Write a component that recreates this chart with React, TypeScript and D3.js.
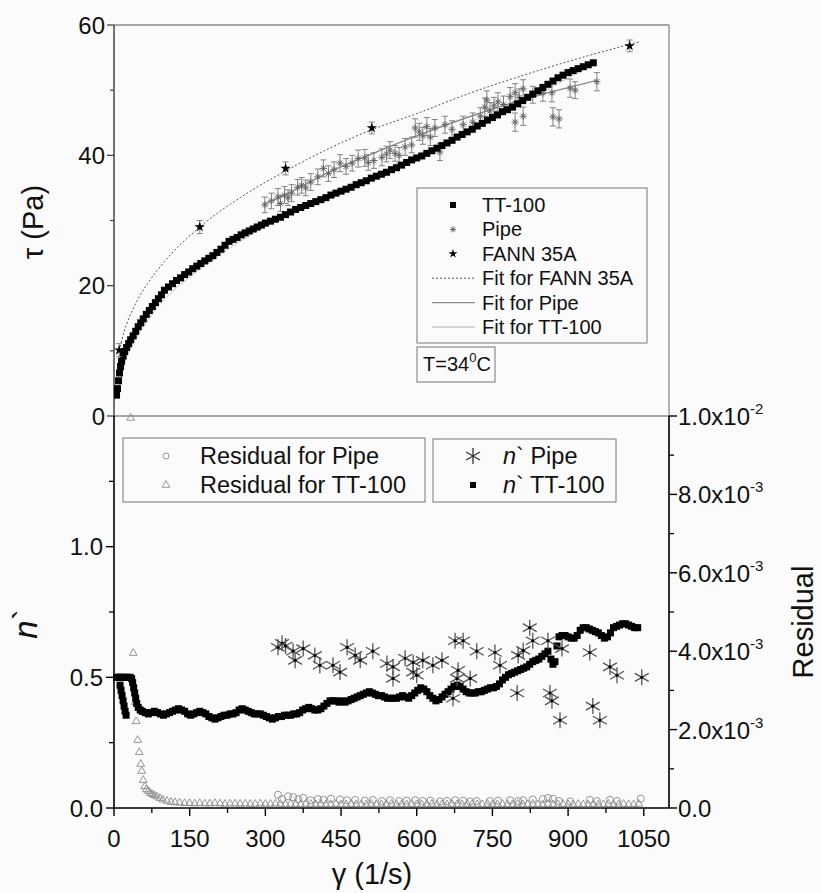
import React from 'react';
import * as d3 from 'd3';

// ---------------- data ----------------
const xTicks = [0, 150, 300, 450, 600, 750, 900, 1050];
const xMinor = [75, 225, 375, 525, 675, 825, 975];
const tauTicks = [0, 20, 40, 60];
const tauMinor = [10, 30, 50];
const nTicks = [0.0, 0.5, 1.0];
const nTickLabels = ['0.0', '0.5', '1.0'];
const nMinor = [0.25, 0.75, 1.25];
const resTicks = [0, 0.002, 0.004, 0.006, 0.008, 0.01];
const resTickMant = ['0.0', '2.0x10', '4.0x10', '6.0x10', '8.0x10', '1.0x10'];
const resTickExp = ['', '-3', '-3', '-3', '-3', '-2'];
const resMinor = [0.001, 0.003, 0.005, 0.007, 0.009];

// TT-100 shear stress [gamma, tau]
const tt100Tau: [number, number][] = [
  [5,3.2],[7,4.2],[9,5.4],[11,6.6],[13,7.6],[15,8.4],[18,9.2],[21,9.9],[25,10.5],[29,11.1],[33,11.7],[38,12.3],
  [43,13.0],[48,13.7],[53,14.3],[58,14.9],[64,15.6],[70,16.2],[76,16.8],[82,17.4],[88,18.0],[94,18.6],[100,19.3],
  [108,19.8],[116,20.3],[124,20.8],[132,21.2],[140,21.7],[148,22.1],[156,22.6],[164,23.0],[172,23.4],[180,23.8],
  [188,24.2],[196,24.6],[204,25.1],[212,25.6],[220,26.2],[228,26.8],[236,27.1],[244,27.4],[252,27.8],[260,28.1],
  [268,28.4],[276,28.7],[284,29.0],[292,29.3],[300,29.6],[310,29.9],[320,30.2],[330,30.5],[340,30.9],[350,31.3],
  [360,31.7],[370,32.0],[380,32.3],[390,32.6],[400,32.9],[410,33.2],[420,33.5],[430,33.9],[440,34.2],[450,34.5],
  [460,34.8],[470,35.1],[480,35.5],[490,35.8],[500,36.1],[510,36.5],[520,36.8],[530,37.1],[540,37.4],[550,37.8],
  [560,38.1],[570,38.5],[580,38.9],[590,39.3],[600,39.6],[610,39.9],[620,40.3],[630,40.7],[640,41.1],[650,41.5],
  [660,41.9],[670,42.3],[680,42.8],[690,43.2],[700,43.6],[710,44.0],[720,44.5],[730,44.9],[740,45.4],[750,45.8],
  [760,46.2],[770,46.7],[780,47.0],[790,47.4],[800,47.9],[810,48.4],[820,48.9],[830,49.4],[840,49.9],[850,50.4],
  [860,50.9],[870,51.4],[880,51.9],[890,52.3],[900,52.7],[910,53.0],[920,53.3],[930,53.6],[940,53.9],[950,54.2],
];

// Pipe shear stress [gamma, tau, error]
const pipeTau: [number, number, number][] = [
  [299,32.4,1.2],[312,33.0,1.2],[325,33.6,1.3],[330,32.6,1.2],[338,33.9,1.3],[345,33.5,1.2],[352,34.2,1.3],
  [364,35.1,1.2],[372,35.4,1.2],[380,35.0,1.2],[390,35.9,1.3],[404,36.7,1.2],[415,38.0,1.3],[425,37.2,1.2],
  [436,37.8,1.2],[448,38.8,1.3],[460,38.3,1.2],[472,38.8,1.2],[484,39.5,1.3],[497,39.6,1.3],[504,38.9,1.2],
  [515,39.2,1.2],[531,39.7,1.3],[540,40.2,1.2],[547,40.8,1.3],[557,40.3,1.2],[565,40.0,1.2],[577,41.3,1.3],
  [590,41.6,1.2],[597,44.2,1.4],[605,43.6,1.3],[612,43.0,1.3],[620,44.4,1.4],[627,42.8,1.3],[636,44.2,1.3],
  [646,40.5,1.3],[656,44.7,1.3],[670,44.0,1.3],[692,44.7,1.3],[711,45.1,1.4],[726,46.0,1.3],[735,47.4,1.4],
  [739,48.5,1.4],[745,46.8,1.3],[753,47.6,1.3],[761,48.2,1.4],[772,47.8,1.3],[785,49.0,1.4],[795,49.6,1.4],
  [795,45.1,1.4],[803,48.9,1.3],[811,50.2,1.4],[811,46.0,1.4],[830,49.3,1.3],[850,49.6,1.3],[868,49.6,1.4],
  [870,45.9,1.4],[882,45.6,1.4],[904,50.3,1.4],[914,50.0,1.3],[957,51.3,1.4],
];

// FANN 35A shear stress [gamma, tau, error]
const fannTau: [number, number, number][] = [
  [10.2,10.1,1.0],[170,29.0,1.0],[340,38.0,1.0],[511,44.2,0.9],[1022,56.8,0.9],
];

// fitted curves
const fitFann: [number, number][] = [
  [12,10.6],[20,12.9],[40,16.8],[70,20.7],[100,23.7],[170,29.0],[250,33.5],[340,37.6],[430,41.2],
  [510,43.9],[600,46.4],[700,49.4],[800,52.0],[900,54.4],[1040,57.4],
];
const fitPipe: [number, number][] = [
  [299,32.6],[330,33.6],[420,37.2],[510,40.2],[600,43.0],[700,45.8],[800,48.3],[900,50.4],[957,51.5],
];
const fitTT100: [number, number][] = [
  [8,3.8],[20,7.8],[40,11.4],[70,15.0],[100,17.9],[150,21.3],[200,24.2],[300,29.1],[400,32.7],
  [500,35.9],[600,39.4],[700,43.3],[800,47.6],[950,54.0],
];

// n' TT-100 [gamma, n']
const nTT100: [number, number][] = [
  [5,0.5],[8,0.5],[11,0.5],[14,0.5],[17,0.5],[20,0.5],[24,0.5],[28,0.5],[32,0.5],[35,0.495],[37,0.48],[39,0.46],
  [41,0.44],[43,0.42],[45,0.40],[48,0.385],[52,0.375],
  [12,0.47],[14,0.45],[16,0.43],[18,0.41],[20,0.39],[22,0.37],[24,0.355],
  [56,0.37],[62,0.365],[68,0.36],[74,0.365],[80,0.37],[86,0.365],[92,0.36],[98,0.355],[104,0.36],[110,0.365],
  [116,0.37],[122,0.375],[128,0.38],[134,0.375],[140,0.37],[146,0.36],[152,0.355],[158,0.36],[164,0.365],
  [170,0.37],[176,0.365],[182,0.36],[188,0.35],[194,0.345],[200,0.34],[206,0.345],[212,0.35],[218,0.355],
  [224,0.355],[230,0.36],[236,0.36],[242,0.365],[248,0.375],[254,0.38],[260,0.375],[266,0.37],[272,0.365],
  [278,0.36],[284,0.36],[290,0.36],[296,0.355],[302,0.35],[308,0.345],[314,0.34],[320,0.345],[326,0.35],
  [332,0.35],[338,0.355],[344,0.355],[350,0.355],[356,0.36],[362,0.36],[368,0.365],[374,0.375],[380,0.38],
  [386,0.385],[392,0.38],[398,0.375],[404,0.375],[410,0.38],[416,0.39],[422,0.40],[428,0.41],[434,0.41],
  [440,0.41],[446,0.405],[452,0.41],[458,0.405],[464,0.41],[470,0.415],[476,0.42],[482,0.425],[488,0.43],
  [494,0.435],[500,0.44],[506,0.445],[512,0.44],[518,0.435],[524,0.43],[530,0.43],[536,0.425],[542,0.42],
  [548,0.42],[554,0.42],[560,0.42],[566,0.425],[572,0.43],[578,0.425],[584,0.42],[590,0.43],[596,0.44],
  [602,0.45],[608,0.46],[614,0.455],[620,0.445],[626,0.43],[632,0.42],[638,0.41],[644,0.415],[650,0.425],
  [656,0.435],[662,0.445],[668,0.455],[674,0.465],[680,0.47],[686,0.465],[692,0.455],[698,0.445],[704,0.44],
  [710,0.44],[716,0.44],[722,0.445],[728,0.445],[734,0.45],[740,0.455],[746,0.46],[752,0.46],[758,0.465],
  [764,0.475],[770,0.49],[776,0.50],[782,0.51],[788,0.515],[794,0.52],[800,0.525],[806,0.53],[812,0.535],
  [818,0.54],[824,0.55],[830,0.56],[836,0.565],[842,0.57],[848,0.58],[854,0.59],[860,0.60],[866,0.57],
  [870,0.55],[874,0.56],[878,0.62],[882,0.655],[888,0.66],[894,0.66],[900,0.655],[906,0.65],[912,0.65],
  [918,0.66],[924,0.68],[930,0.69],[936,0.69],[942,0.685],[948,0.68],[954,0.675],[960,0.67],[966,0.66],
  [972,0.65],[978,0.655],[984,0.67],[990,0.69],[996,0.695],[1002,0.70],[1008,0.705],[1014,0.705],[1020,0.70],
  [1026,0.695],[1032,0.69],[1038,0.69],
];

// n' Pipe [gamma, n']
const nPipe: [number, number][] = [
  [325,0.615],[333,0.63],[340,0.62],[355,0.60],[359,0.565],[375,0.61],[398,0.584],[408,0.546],[434,0.546],
  [448,0.52],[462,0.615],[478,0.584],[488,0.565],[513,0.60],[541,0.553],[553,0.54],[553,0.496],[577,0.573],
  [593,0.557],[593,0.52],[600,0.508],[612,0.565],[632,0.546],[650,0.565],[672,0.42],[676,0.64],[680,0.496],
  [682,0.527],[692,0.64],[706,0.496],[719,0.60],[755,0.595],[765,0.546],[799,0.44],[801,0.584],[811,0.603],
  [824,0.69],[830,0.64],[860,0.64],[864,0.44],[868,0.41],[884,0.336],[888,0.61],[943,0.595],[949,0.39],
  [963,0.336],[983,0.54],[997,0.508],[1046,0.50],
];

// Residual for Pipe [gamma, residual]
const resPipe: [number, number][] = [
  [325,2.6e-4],[333,1.5e-4],[345,2.2e-4],[355,2.0e-4],[365,1.5e-4],[375,1.8e-4],[390,1.2e-4],[404,1.5e-4],
  [415,1.3e-4],[430,1.6e-4],[448,1.4e-4],[462,1.2e-4],[478,1.3e-4],[497,1.1e-4],[513,1.3e-4],[531,1.0e-4],
  [547,1.2e-4],[565,1.0e-4],[580,1.1e-4],[597,1.2e-4],[612,1.0e-4],[627,1.1e-4],[646,0.9e-4],[660,1.0e-4],
  [676,1.2e-4],[692,1.1e-4],[706,0.9e-4],[719,1.0e-4],[745,1.0e-4],[761,1.1e-4],[785,1.2e-4],[801,1.0e-4],
  [811,1.2e-4],[830,1.4e-4],[850,1.5e-4],[860,1.8e-4],[870,1.6e-4],[882,1.0e-4],[904,0.9e-4],[943,1.3e-4],
  [957,1.0e-4],[983,1.3e-4],[997,1.0e-4],[1044,1.6e-4],
];

// Residual for TT-100 [gamma, residual]
const resTT100: [number, number][] = [
  [33,0.0099],[38,0.0039],[42,0.00265],[44,0.00216],[47,0.00168],[50,0.00137],[53,0.00107],[55,0.00089],
  [58,0.00066],[61,0.0005],[64,0.00042],[68,0.00038],[72,0.00033],[76,0.0003],[80,0.00027],[85,0.00024],
  [91,0.0002],[97,0.00016],[105,0.00013],[113,0.0001],[121,0.00009],[130,0.00008],[140,0.00007],[150,0.00007],
  [160,0.00006],[170,0.00007],[180,0.00006],[190,0.00006],[200,0.00007],[210,0.00006],[220,0.00005],
  [230,0.00006],[240,0.00006],[250,0.00005],[260,0.00006],[270,0.00005],[280,0.00005],[290,0.00006],
  [300,0.00005],[310,0.00005],[320,0.00006],[330,0.00005],[340,0.00004],[350,0.00005],[360,0.00005],
  [370,0.00004],[380,0.00005],[390,0.00005],[400,0.00004],[410,0.00005],[420,0.00004],[430,0.00004],
  [440,0.00005],[450,0.00004],[460,0.00004],[470,0.00005],[480,0.00004],[490,0.00004],[500,0.00004],
  [510,0.00005],[520,0.00004],[530,0.00004],[540,0.00004],[550,0.00005],[560,0.00004],[570,0.00004],
  [580,0.00004],[590,0.00005],[600,0.00004],[610,0.00004],[620,0.00004],[630,0.00005],[640,0.00004],
  [650,0.00004],[660,0.00004],[670,0.00005],[680,0.00004],[690,0.00004],[700,0.00005],[710,0.00004],
  [720,0.00004],[730,0.00004],[740,0.00005],[750,0.00004],[760,0.00004],[770,0.00005],[780,0.00004],
  [790,0.00004],[800,0.00005],[810,0.00004],[820,0.00004],[830,0.00005],[840,0.00004],[850,0.00004],
  [860,0.00005],[870,0.00004],[880,0.00004],[890,0.00005],[900,0.00004],[910,0.00004],[920,0.00005],
  [930,0.00004],[940,0.00004],[950,0.00005],[960,0.00004],[970,0.00004],[980,0.00005],[990,0.00004],
  [1000,0.00004],[1010,0.00005],[1020,0.00004],[1030,0.00004],[1040,0.00005],
];

const topLegend = ['TT-100', 'Pipe', 'FANN 35A', 'Fit for FANN 35A', 'Fit for Pipe', 'Fit for TT-100'];
const resLegend = ['Residual for Pipe', 'Residual for TT-100'];
const nLegend = [' Pipe', ' TT-100'];

// ---------------- layout ----------------
const W = 822, H = 893;
const X0 = 114, X1 = 669;
const TOP = 25, MID = 416, BOT = 808;
const FONT = "'Liberation Sans', Arial, Helvetica, sans-serif";

const x = d3.scaleLinear().domain([0, 1100]).range([X0, X1]);
const yTau = d3.scaleLinear().domain([0, 60]).range([MID, TOP]);
const yN = d3.scaleLinear().domain([0, 1.5]).range([BOT, MID]);
const yRes = d3.scaleLinear().domain([0, 0.01]).range([BOT, MID]);

const starPath = d3.symbol().type(d3.symbolStar).size(34)() as string;
const triPath = d3.symbol().type(d3.symbolTriangle).size(26)() as string;

function asterisk(r: number, eight: boolean) {
  const angs = eight ? [0, 45, 90, 135] : [90, 30, -30];
  return angs
    .map((a) => {
      const c = Math.cos((a * Math.PI) / 180) * r;
      const s = Math.sin((a * Math.PI) / 180) * r;
      return `M${-c},${-s}L${c},${s}`;
    })
    .join('');
}
const smallAst = asterisk(3.6, true);
const bigAst = asterisk(8, false);

export default function App() {
  const lineTau = d3
    .line<[number, number]>()
    .x((d) => x(d[0]))
    .y((d) => yTau(d[1]))
    .curve(d3.curveMonotoneX);

  const tl = 24; // tick label size
  return (
    <svg
      width={W}
      height={H}
      viewBox={`0 0 ${W} ${H}`}
      style={{ position: 'absolute', left: 0, top: 0, background: '#fbfbfb' }}
      fontFamily={FONT}
    >
      <rect x={0} y={0} width={W} height={H} fill="#fbfbfb" />
      <defs>
        <clipPath id="clipTop">
          <rect x={X0} y={TOP - 8} width={X1 - X0} height={MID - TOP + 8} />
        </clipPath>
      </defs>

      {/* ---------- top panel frame ---------- */}
      <line x1={X0} x2={X1} y1={TOP} y2={TOP} stroke="#8a8a8a" strokeWidth={1.3} />
      <line x1={X1} x2={X1} y1={TOP} y2={MID} stroke="#8a8a8a" strokeWidth={1.3} />
      <line x1={X0} x2={X1} y1={MID} y2={MID} stroke="#8a8a8a" strokeWidth={1.3} />
      <line x1={X0} x2={X0} y1={TOP} y2={MID} stroke="#444" strokeWidth={1.5} />
      {tauTicks.map((t) => (
        <g key={'tt' + t}>
          <line x1={X0 - 7} x2={X0} y1={yTau(t)} y2={yTau(t)} stroke="#444" strokeWidth={1.3} />
          <text x={X0 - 9} y={yTau(t) + 8.5} fontSize={tl} textAnchor="end" fill="#111">
            {t}
          </text>
        </g>
      ))}
      {tauMinor.map((t) => (
        <line key={'tm' + t} x1={X0 - 4} x2={X0} y1={yTau(t)} y2={yTau(t)} stroke="#444" strokeWidth={1.2} />
      ))}
      <text transform={`translate(43,222) rotate(-90)`} fontSize={29} textAnchor="middle" fill="#111">
        τ (Pa)
      </text>

      {/* ---------- top panel data ---------- */}
      <g clipPath="url(#clipTop)">
        <path d={lineTau(fitTT100) || ''} fill="none" stroke="#c4c4c4" strokeWidth={1} />
        <path d={lineTau(fitPipe) || ''} fill="none" stroke="#8c8c8c" strokeWidth={1.4} />
        <path d={lineTau(fitFann) || ''} fill="none" stroke="#555" strokeWidth={1} strokeDasharray="2,2" />
        {pipeTau.map((d, i) => {
          const cx = x(d[0]);
          const y1 = yTau(d[1] + d[2]);
          const y2 = yTau(d[1] - d[2]);
          return (
            <g key={'pe' + i} stroke="#777" strokeWidth={0.9} fill="none">
              <line x1={cx} x2={cx} y1={y1} y2={y2} />
              <line x1={cx - 3} x2={cx + 3} y1={y1} y2={y1} />
              <line x1={cx - 3} x2={cx + 3} y1={y2} y2={y2} />
              <path d={smallAst} transform={`translate(${cx},${yTau(d[1])})`} stroke="#666" strokeWidth={1} />
            </g>
          );
        })}
        {tt100Tau.map((d, i) => (
          <rect key={'ts' + i} x={x(d[0]) - 3.5} y={yTau(d[1]) - 3.5} width={7} height={7} fill="#000" />
        ))}
        {fannTau.map((d, i) => {
          const cx = x(d[0]);
          const y1 = yTau(d[1] + d[2]);
          const y2 = yTau(d[1] - d[2]);
          return (
            <g key={'fe' + i}>
              <g stroke="#777" strokeWidth={0.9}>
                <line x1={cx} x2={cx} y1={y1} y2={y2} />
                <line x1={cx - 3} x2={cx + 3} y1={y1} y2={y1} />
                <line x1={cx - 3} x2={cx + 3} y1={y2} y2={y2} />
              </g>
              <path d={starPath} transform={`translate(${cx},${yTau(d[1])})`} fill="#000" />
            </g>
          );
        })}
      </g>

      {/* ---------- top legend ---------- */}
      <rect x={417} y={188} width={230} height={155} fill="none" stroke="#777" strokeWidth={1} />
      {topLegend.map((lab, i) => {
        const cy = 205 + i * 24.4;
        return (
          <g key={'tl' + i}>
            {i === 0 && <rect x={450} y={cy - 3} width={6} height={6} fill="#000" />}
            {i === 1 && <path d={asterisk(3, true)} transform={`translate(453,${cy})`} stroke="#666" strokeWidth={1} />}
            {i === 2 && <path d={starPath} transform={`translate(453,${cy}) scale(0.85)`} fill="#000" />}
            {i === 3 && <line x1={432} x2={475} y1={cy} y2={cy} stroke="#555" strokeWidth={1} strokeDasharray="2,2" />}
            {i === 4 && <line x1={432} x2={475} y1={cy} y2={cy} stroke="#8c8c8c" strokeWidth={1.4} />}
            {i === 5 && <line x1={432} x2={475} y1={cy} y2={cy} stroke="#b0b0b0" strokeWidth={1} />}
            <text x={482} y={cy + 7} fontSize={20} fill="#111">
              {lab}
            </text>
          </g>
        );
      })}
      <rect x={417} y={347} width={78} height={35} fill="none" stroke="#777" strokeWidth={1} />
      <text x={423} y={371} fontSize={20} fill="#111">
        T=34
        <tspan fontSize={13} dy={-9}>
          0
        </tspan>
        <tspan dy={9}>C</tspan>
      </text>

      {/* ---------- bottom panel axes ---------- */}
      <line x1={X0} x2={X0} y1={MID} y2={BOT} stroke="#000" strokeWidth={1.6} />
      <line x1={X0} x2={X1} y1={BOT} y2={BOT} stroke="#000" strokeWidth={1.6} />
      <line x1={X1} x2={X1} y1={MID} y2={BOT} stroke="#000" strokeWidth={1.6} />
      {nTicks.map((t, i) => (
        <g key={'nt' + i}>
          <line x1={X0 - 8} x2={X0} y1={yN(t)} y2={yN(t)} stroke="#000" strokeWidth={1.4} />
          <text x={X0 - 11} y={yN(t) + 8.5} fontSize={tl} textAnchor="end" fill="#111">
            {nTickLabels[i]}
          </text>
        </g>
      ))}
      {nMinor.map((t) => (
        <line key={'nm' + t} x1={X0 - 5} x2={X0} y1={yN(t)} y2={yN(t)} stroke="#000" strokeWidth={1.3} />
      ))}
      {xTicks.map((t) => (
        <g key={'xt' + t}>
          <line x1={x(t)} x2={x(t)} y1={BOT} y2={BOT + 8} stroke="#000" strokeWidth={1.4} />
          <text x={x(t)} y={BOT + 39} fontSize={tl} textAnchor="middle" fill="#111">
            {t}
          </text>
        </g>
      ))}
      {xMinor.map((t) => (
        <line key={'xm' + t} x1={x(t)} x2={x(t)} y1={BOT} y2={BOT + 5} stroke="#000" strokeWidth={1.3} />
      ))}
      {resTicks.map((t, i) => (
        <g key={'rt' + i}>
          <line x1={X1} x2={X1 + 8} y1={yRes(t)} y2={yRes(t)} stroke="#000" strokeWidth={1.4} />
          <text x={X1 + 9} y={yRes(t) + 9} fontSize={tl} fill="#111">
            {resTickMant[i]}
            {resTickExp[i] && (
              <tspan fontSize={15} dy={-11}>
                {resTickExp[i]}
              </tspan>
            )}
          </text>
        </g>
      ))}
      {resMinor.map((t) => (
        <line key={'rm' + t} x1={X1} x2={X1 + 5} y1={yRes(t)} y2={yRes(t)} stroke="#000" strokeWidth={1.3} />
      ))}
      <text transform={`translate(37,624) rotate(-90)`} fontSize={33} textAnchor="middle" fill="#111">
        <tspan fontStyle="italic">n</tspan>`
      </text>
      <text transform={`translate(813,622) rotate(-90)`} fontSize={29} textAnchor="middle" fill="#111">
        Residual
      </text>
      <text x={372} y={884} fontSize={29} textAnchor="middle" fill="#111">
        γ (1/s)
      </text>

      {/* ---------- bottom panel data ---------- */}
      {resTT100.map((d, i) => (
        <path key={'rtt' + i} d={triPath} transform={`translate(${x(d[0])},${yRes(d[1]) - 2})`} fill="none" stroke="#8a8a8a" strokeWidth={0.9} />
      ))}
      {resPipe.map((d, i) => (
        <circle key={'rp' + i} cx={x(d[0])} cy={yRes(d[1]) - 3} r={3.6} fill="none" stroke="#8a8a8a" strokeWidth={0.9} />
      ))}
      {nTT100.map((d, i) => (
        <rect key={'ns' + i} x={x(d[0]) - 3.5} y={yN(d[1]) - 3.5} width={7} height={7} fill="#000" />
      ))}
      {nPipe.map((d, i) => (
        <g key={'np' + i} transform={`translate(${x(d[0])},${yN(d[1])})`}>
          <path d={bigAst} stroke="#555" strokeWidth={1.3} fill="none" />
          <circle r={1.6} fill="#000" />
        </g>
      ))}

      {/* ---------- bottom legends ---------- */}
      <rect x={123} y={438} width={302} height={64} fill="none" stroke="#777" strokeWidth={1} />
      {resLegend.map((lab, i) => {
        const cy = 456 + i * 29;
        return (
          <g key={'rl' + i}>
            {i === 0 ? (
              <circle cx={166} cy={cy} r={3} fill="none" stroke="#8a8a8a" strokeWidth={0.9} />
            ) : (
              <path d={triPath} transform={`translate(166,${cy})`} fill="none" stroke="#8a8a8a" strokeWidth={0.9} />
            )}
            <text x={200} y={cy + 8} fontSize={23.5} fill="#111">
              {lab}
            </text>
          </g>
        );
      })}
      <rect x={433} y={439} width={183} height={63} fill="none" stroke="#777" strokeWidth={1} />
      {nLegend.map((lab, i) => {
        const cy = 456 + i * 29;
        return (
          <g key={'nl' + i}>
            {i === 0 ? (
              <path d={bigAst} transform={`translate(473,${cy})`} stroke="#333" strokeWidth={1.3} fill="none" />
            ) : (
              <rect x={470} y={cy - 3} width={6} height={6} fill="#000" />
            )}
            <text x={503} y={cy + 8} fontSize={23.5} fill="#111">
              <tspan fontStyle="italic">n</tspan>`{lab}
            </text>
          </g>
        );
      })}
    </svg>
  );
}
